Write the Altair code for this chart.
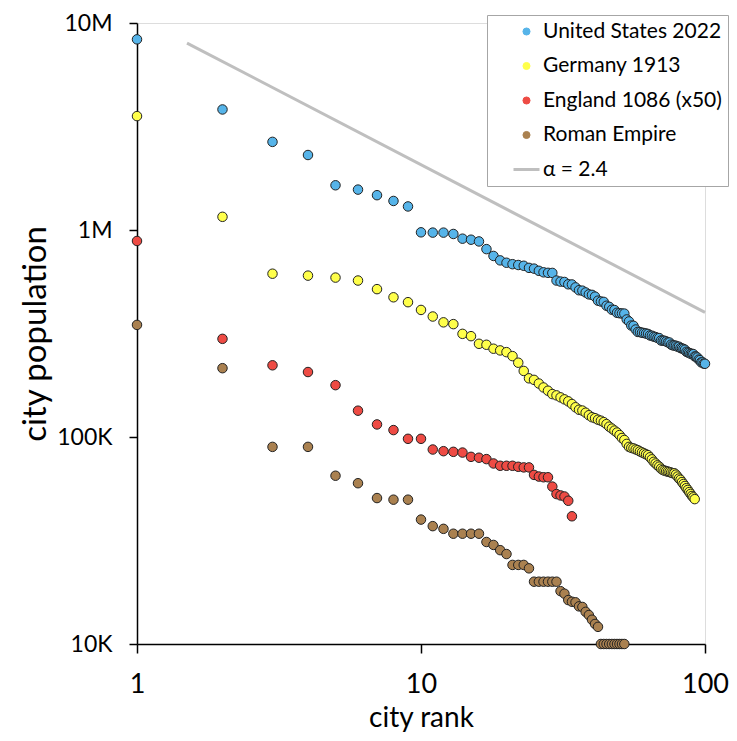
import altair as alt
import pandas as pd

series_names = ["United States 2022", "Germany 1913", "England 1086 (x50)", "Roman Empire"]
line_name = "α = 2.4"
colors = ["#56B4E9", "#FFFF4A", "#EE4B44", "#AA8150", "#BFBFBF"]

# United States 2022 (population, ranks 1..100)
us_pop = [8335897, 3822238, 2665039, 2302878, 1644409, 1567258, 1472909, 1381162, 1299544, 974447,
          971319, 971233, 956709, 907971, 897720, 880621, 808437, 749256, 713252, 694800,
          683622, 677456, 671803, 656274, 650706, 635067, 624444, 621056, 620376, 569931,
          563305, 561008, 546574, 545567, 528001, 511648, 509297, 499127, 488664, 486051,
          476587, 455618, 451307, 449514, 430553, 425336, 411894, 410647, 398173, 396119,
          395052, 394602, 369749, 361607, 345510, 344461, 330561, 321819, 321276, 318858,
          317804, 316081, 314621, 309513, 308459, 305344, 303820, 301115, 300431, 292657,
          291928, 291657, 289547, 286578, 286075, 279458, 277220, 276807, 275733, 273136,
          272903, 268851, 267927, 266301, 263930, 258202, 256187, 254715, 252488, 252136,
          251350, 245021, 244394, 242035, 236634, 235089, 229447, 229395, 226208, 225850]

# Germany 1913 (thousands)
de_pop_k = [3550, 1158, 615, 602, 589, 570, 518, 473, 448, 411, 382, 358, 351, 315, 307, 282, 279, 267, 262,
            257.0, 245.9, 228.5, 208.5, 192.1, 188.8, 181.3, 173.5, 167.3, 161.2, 158.9, 155.4, 152.0, 148.7,
            144.3, 139.2, 135.4, 134.2, 131.0, 127.4, 124.6, 123.3, 121.2, 119.9, 118.0, 115.4, 112.2, 109.8,
            107.4, 105.1, 102.2, 98.9, 96.7, 92.6, 89.6, 88.6, 88.1, 87.1, 86.4, 85.2, 84.3, 83.4, 82.5, 81.7,
            79.8, 78.0, 75.9, 74.5, 73.0, 71.9, 70.3, 69.3, 68.8, 68.4, 68.0, 67.7, 67.3, 66.9, 66.8, 65.8,
            64.4, 63.0, 62.1, 60.6, 59.3, 58.0, 56.6, 55.5, 54.2, 53.1, 51.9, 51.1, 50.1]

# England 1086, multiplied by 50 (thousands)
en_pop_k = [885, 298, 222, 206, 178, 134, 115, 108, 98, 98, 87, 85.4, 84.8, 84.1, 80.2, 79.4, 78.2, 74.5,
            72.6, 72.6, 72.6, 71.8, 71.3, 71.3, 65.6, 64.4, 63.9, 63.9, 57.6, 53.0, 52.2, 51.6, 49.2, 41.4]

# Roman Empire (thousands)
ro_pop_k = [348, 215, 89.6, 89.6, 65.0, 59.8, 50.7, 49.8, 49.8, 39.9, 37.1, 36.0, 34.1, 34.1, 34.1, 34.1,
            31.1, 30.1, 28.4, 27.2, 24.1, 24.1, 24.1, 23.2, 20, 20, 20, 20, 20, 20, 18.0, 17.5, 16.3, 16.0,
            15.9, 15.2, 15.1, 14.3, 13.8, 13.1, 12.5, 12.1, 10, 10, 10, 10, 10, 10, 10, 10, 10, 10]

# power-law reference line (alpha = 2.4)
line_rank = [1.5, 100]
line_pop = [8.0e6, 4.0e5]

series_values = [us_pop,
                 [v * 1000 for v in de_pop_k],
                 [v * 1000 for v in en_pop_k],
                 [v * 1000 for v in ro_pop_k]]

rows = []
for name, vals in zip(series_names, series_values):
    for i, v in enumerate(vals):
        rows.append({"series": name, "rank": i + 1, "pop": v})
points_df = pd.DataFrame(rows)
line_df = pd.DataFrame({"series": [line_name] * len(line_rank), "rank": line_rank, "pop": line_pop})

domain = series_names + [line_name]
is_line = "datum.value === '" + line_name + "'"

legend = alt.Legend(
    title=None,
    orient="none",
    legendX=350,
    legendY=-8,
    labelFont="Lato",
    labelFontSize=21,
    labelColor="black",
    labelOffset=6,
    labelLimit=300,
    strokeColor="#A6A6A6",
    fillColor="white",
    padding=6,
    symbolOffset=23,
    rowPadding=12.5,
    symbolType={"expr": is_line + " ? 'stroke' : 'circle'"},
    symbolStrokeColor={"expr": is_line + " ? '#BFBFBF' : '#333333'"},
    symbolStrokeWidth={"expr": is_line + " ? 3 : 1"},
    symbolSize={"expr": is_line + " ? 676 : 50"},
    symbolOpacity=1,
)

color = alt.Color("series:N", scale=alt.Scale(domain=domain, range=colors), sort=domain, legend=legend)

x = alt.X("rank:Q",
          scale=alt.Scale(type="log", domain=[1, 100], nice=False),
          axis=alt.Axis(title="city rank", values=[1, 10, 100], format="d", grid=False,
                        domainColor="black", domainWidth=1.5, tickColor="black", tickWidth=1.5,
                        tickSize=9, labelFont="Lato", labelFontSize=27, labelColor="black",
                        labelPadding=18, labelFlush=False, labelOverlap=False, labelBound=False,
                        titleFont="Lato", titleFontSize=28, titleFontWeight="normal",
                        titleColor="black", titlePadding=7))

y = alt.Y("pop:Q",
          scale=alt.Scale(type="log", domain=[1e4, 1e7], nice=False),
          axis=alt.Axis(title="city population", values=[1e4, 1e5, 1e6, 1e7],
                        labelExpr="datum.value >= 1e6 ? format(datum.value / 1e6, 'd') + 'M' : format(datum.value / 1e3, 'd') + 'K'",
                        grid=False, domainColor="black", domainWidth=1.5, tickColor="black",
                        tickWidth=1.5, tickSize=8, labelFont="Lato", labelFontSize=23,
                        labelColor="black", labelPadding=17, labelOverlap=False, labelBound=False,
                        labelFlush=False,
                        titleFont="Lato", titleFontSize=33, titleFontWeight="normal",
                        titleColor="black", titlePadding=4))

line = alt.Chart(line_df).mark_line(strokeWidth=3, clip=False).encode(x=x, y=y, color=color)

pts = alt.Chart(points_df).mark_circle(size=90, opacity=1, stroke="#222222", strokeWidth=1).encode(
    x=x, y=y, color=color, order=alt.Order("rank:Q"))

chart = alt.layer(line, pts).properties(
    width=568,
    height=621,
    autosize=alt.AutoSizeParams(type="none"),
    padding={"left": 129, "top": 15, "right": 24, "bottom": 89},
).configure_view(stroke=None).configure(background="white")

chart.save("out.html", embed_options={"renderer": "svg", "actions": False})
